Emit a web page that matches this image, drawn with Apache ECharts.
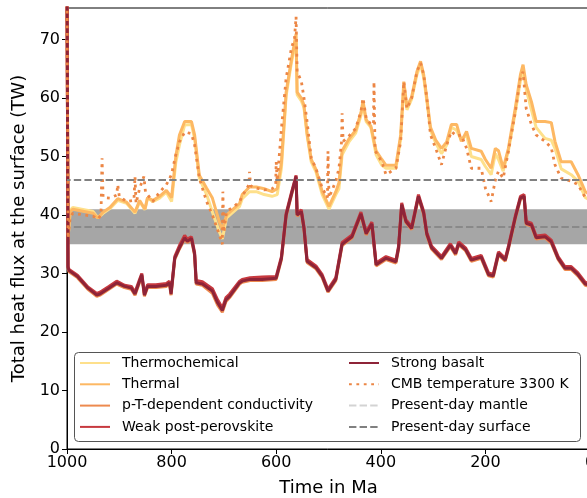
<!DOCTYPE html>
<html>
<head>
<meta charset="utf-8">
<script src="https://cdn.jsdelivr.net/npm/echarts@6/dist/echarts.min.js"></script>
<style>
  html, body { margin: 0; padding: 0; background: #fff; }
  #chart { width: 587px; height: 498px; }
</style>
</head>
<body>
<div id="chart"></div>
<script>
// ticks
var xTicks = [0, 200, 400, 600, 800, 1000];
var yTicks = [0, 10, 20, 30, 40, 50, 60, 70];

// reference values (TW)
var mantleFlux = 38;
var surfaceFlux = 46;
var mantleBand = [35, 41];

// thermal / thermochemical runs share a time grid (Ma)
var upperTime = [
  1000, 998, 994, 989, 950, 941, 931, 918, 903, 886,
  870, 861, 851, 846, 836, 823, 810, 800, 792, 785,
  775, 762, 756, 747, 733, 722, 709, 703, 695, 670,
  665, 651, 638, 623, 608, 598, 590, 581, 571, 562,
  560, 552, 547, 541, 533, 524, 512, 499, 486, 480,
  474, 461, 448, 438, 434, 428, 419, 409, 398, 390,
  371, 362, 356, 350, 341, 331, 324, 318, 312, 305,
  295, 284, 274, 265, 255, 246, 236, 227, 208, 200,
  189, 181, 175, 166, 156, 143, 133, 128, 122, 112,
  103, 86, 74, 67, 55, 36, 23, 9, 0
];
var thermalFlux = [
  80, 36, 40.5, 41.0, 40.3, 39.5, 40.5, 41.3, 42.8, 42.2,
  40.5, 42.5, 41.0, 43.0, 42.5, 43.2, 44.2, 43.0, 50.0, 53.7,
  56.0, 56.0, 53.7, 46.8, 44.6, 42.9, 38.9, 37.5, 40.0, 42.0,
  43.5, 44.8, 44.8, 44.5, 44.0, 44.5, 49.0, 61.0, 66.5, 71.0,
  61.0, 60.0, 58.8, 54.0, 49.5, 47.8, 44.0, 41.5, 44.0, 45.5,
  51.0, 53.0, 54.5, 57.5, 59.5, 56.3, 55.2, 51.0, 49.5, 48.5,
  48.5, 53.7, 62.8, 58.5, 60.2, 64.5, 66.3, 64.0, 60.0, 55.0,
  52.8, 51.4, 52.5, 55.5, 55.5, 52.6, 54.3, 51.4, 50.9, 49.5,
  48.0, 51.4, 51.0, 48.0, 51.4, 58.2, 64.0, 65.7, 62.3, 59.4,
  56.0, 56.0, 55.8, 52.6, 49.1, 49.1, 46.9, 44.0, 43.5
];
var thermochemFlux = [
  80, 36, 40.8, 41.3, 40.6, 39.5, 40.3, 41.1, 42.5, 42.0,
  40.3, 42.3, 40.9, 42.9, 42.3, 42.9, 43.9, 42.3, 49.0, 52.0,
  55.4, 55.5, 53.0, 46.3, 43.5, 40.5, 37.2, 35.9, 39.5, 41.5,
  42.8, 44.0, 44.0, 43.5, 43.2, 43.5, 48.0, 60.4, 66.0, 70.0,
  60.6, 59.5, 58.4, 53.7, 49.1, 47.4, 43.5, 41.0, 43.5, 44.5,
  50.3, 52.5, 54.0, 57.0, 59.0, 56.0, 55.0, 50.3, 48.5, 48.0,
  48.0, 53.0, 62.0, 58.0, 59.8, 64.0, 65.8, 63.5, 59.5, 54.5,
  52.3, 50.5, 52.0, 55.0, 54.5, 52.8, 53.8, 50.0, 49.5, 48.3,
  46.9, 50.5, 49.5, 47.5, 51.0, 57.5, 63.0, 64.8, 61.5, 58.0,
  55.0, 53.1, 52.8, 51.4, 47.9, 46.9, 45.8, 43.0, 42.5
];

// CMB temperature 3300 K run
var cmbTime = [
  1000, 998, 994, 989, 950, 941, 935, 933, 931, 918,
  905, 903, 900, 886, 872, 870, 868, 861, 853, 850,
  846, 836, 823, 810, 805, 800, 792, 785, 775, 762,
  756, 747, 733, 722, 709, 703, 702, 700, 695, 680,
  670, 665, 652, 651, 649, 638, 623, 608, 601, 600,
  598, 590, 581, 571, 565, 562, 560, 552, 547, 541,
  533, 524, 512, 502, 501, 499, 486, 480, 475, 474,
  472, 461, 448, 438, 434, 428, 419, 414, 413, 411,
  409, 398, 390, 371, 362, 356, 350, 341, 331, 324,
  318, 312, 305, 295, 284, 274, 265, 255, 246, 236,
  227, 208, 200, 189, 181, 175, 166, 156, 143, 133,
  128, 122, 112, 103, 86, 74, 67, 55, 36, 23,
  9, 0
];
var cmbFlux = [
  80, 36, 39.5, 40.3, 39.8, 39.3, 40.0, 49.7, 43.0, 42.9,
  43.4, 45.2, 43.2, 42.3, 42.5, 46.6, 42.0, 44.6, 46.6, 44.0,
  43.5, 42.3, 43.9, 45.2, 46.0, 47.0, 50.3, 52.5, 54.2, 53.9,
  52.0, 46.3, 42.3, 40.0, 36.7, 35.0, 44.0, 37.0, 40.6, 41.5,
  42.3, 43.2, 45.2, 47.4, 45.0, 44.6, 44.3, 44.5, 45.0, 49.1,
  45.8, 54.8, 63.4, 68.5, 70.2, 73.9, 64.5, 62.9, 60.1, 56.0,
  49.7, 48.0, 44.6, 43.0, 50.9, 43.0, 45.8, 48.0, 52.6, 57.4,
  52.6, 53.5, 54.8, 57.7, 60.0, 56.6, 55.5, 55.5, 62.8, 51.0,
  50.9, 49.1, 46.9, 48.0, 52.6, 62.8, 58.2, 60.0, 64.5, 66.0,
  64.0, 60.0, 53.7, 51.4, 48.6, 52.0, 54.3, 53.5, 53.7, 51.4,
  48.0, 48.0, 44.6, 42.3, 46.0, 47.5, 46.3, 50.9, 57.5, 63.5,
  64.5, 58.2, 55.5, 53.7, 52.6, 51.5, 48.6, 46.3, 45.8, 45.2,
  43.0, 42.5
];

// conductivity / post-perovskite / basalt runs share a time grid (Ma)
var lowerTime = [
  1000, 998, 996, 980, 960, 943, 937, 920, 905, 890,
  877, 870, 862, 857, 852, 846, 830, 810, 804, 801,
  794, 785, 775, 770, 762, 756, 753, 741, 722, 712,
  703, 696, 689, 670, 665, 650, 627, 600, 590, 581,
  571, 562, 560, 552, 547, 541, 524, 512, 501, 486,
  474, 455, 438, 428, 417, 409, 390, 371, 366, 360,
  352, 341, 328, 318, 312, 303, 284, 267, 257, 251,
  238, 227, 208, 194, 185, 175, 162, 156, 143, 133,
  126, 122, 112, 103, 86, 74, 61, 48, 36, 23,
  9, 0
];
var pTFlux = [
  80, 30.8, 30.3, 29.3, 27.3, 26.1, 26.3, 27.3, 28.2, 27.6,
  27.3, 26.3, 28.3, 29.6, 26.1, 27.6, 27.6, 27.8, 28.2, 26.3,
  32.4, 34.2, 35.9, 35.3, 35.8, 33.1, 28.2, 28.0, 26.6, 24.6,
  23.4, 25.2, 25.9, 28.2, 28.5, 28.8, 28.8, 29.0, 32.4, 39.8,
  43.3, 46.4, 39.8, 40.4, 37.6, 31.9, 30.8, 29.3, 26.8, 28.8,
  34.8, 36.1, 40.0, 36.6, 38.3, 31.3, 32.4, 31.8, 34.2, 41.6,
  38.7, 37.5, 43.0, 40.1, 36.5, 34.2, 32.4, 34.6, 33.2, 34.9,
  33.9, 32.1, 32.6, 29.6, 29.4, 33.2, 32.1, 34.2, 39.3, 42.7,
  43.0, 38.4, 38.1, 35.9, 36.1, 35.2, 32.4, 30.7, 30.7, 29.6,
  28.0, 27.8
];
var weakPpvFlux = [
  80, 31.2, 30.7, 29.7, 27.7, 26.6, 26.8, 27.8, 28.7, 28.0,
  27.8, 26.8, 28.8, 30.0, 26.6, 28.1, 28.1, 28.3, 28.7, 26.8,
  32.9, 34.8, 36.5, 35.9, 36.3, 33.6, 28.8, 28.6, 27.4, 25.5,
  24.1, 25.9, 26.5, 28.7, 29.0, 29.3, 29.4, 29.5, 32.9, 40.3,
  43.8, 46.8, 40.3, 40.9, 38.1, 32.4, 31.3, 29.8, 27.3, 29.3,
  35.3, 36.6, 40.5, 37.1, 38.8, 31.8, 32.9, 32.3, 34.7, 42.1,
  39.2, 38.0, 43.5, 40.6, 37.0, 34.7, 32.9, 35.1, 33.7, 35.4,
  34.4, 32.6, 33.1, 30.1, 29.9, 33.7, 32.6, 34.7, 39.8, 43.2,
  43.5, 38.9, 38.6, 36.4, 36.6, 35.7, 32.9, 31.2, 31.2, 30.1,
  28.5, 28.3
];
var strongBasaltFlux = [
  80, 31.0, 30.5, 29.5, 27.5, 26.3, 26.5, 27.5, 28.4, 27.8,
  27.5, 26.5, 28.5, 29.8, 26.3, 27.8, 27.8, 28.0, 28.4, 26.5,
  32.6, 34.4, 36.1, 35.5, 36.0, 33.3, 28.4, 28.2, 27.0, 25.0,
  23.7, 25.5, 26.1, 28.4, 28.7, 29.0, 29.0, 29.2, 32.6, 40.0,
  43.5, 46.6, 40.0, 40.6, 37.8, 32.1, 31.0, 29.5, 27.0, 29.0,
  35.0, 36.3, 40.2, 36.8, 38.5, 31.5, 32.6, 32.0, 34.4, 41.8,
  38.9, 37.7, 43.2, 40.3, 36.7, 34.4, 32.6, 34.8, 33.4, 35.1,
  34.1, 32.3, 32.8, 29.8, 29.6, 33.4, 32.3, 34.4, 39.5, 42.9,
  43.2, 38.6, 38.3, 36.1, 36.3, 35.4, 32.6, 30.9, 30.9, 29.8,
  28.2, 28.0
];

function pairs(t, v) {
  return t.map(function (x, i) { return [x, v[i]]; });
}

var font = 'DejaVu Sans';
var chart = echarts.init(document.getElementById('chart'));

function run(name, color, t, v, extra) {
  var s = {
    name: name,
    type: 'line',
    data: pairs(t, v),
    symbol: 'none',
    showSymbol: false,
    z: 3,
    lineStyle: { color: color, width: 3 },
    itemStyle: { color: color }
  };
  if (extra) s.lineStyle = Object.assign(s.lineStyle, extra);
  return s;
}

var legendText = { fontFamily: font, fontSize: 14, color: '#000', padding: [0, 0, 0, 7] };

chart.setOption({
  animation: false,
  backgroundColor: '#fff',
  grid: {
    left: 67, right: -3, top: 8, bottom: 49, outerBoundsMode: 'none',
    show: true, borderColor: '#000', borderWidth: 1
  },
  xAxis: {
    type: 'value', inverse: true, min: 0, max: 1000,
    name: 'Time in Ma', nameLocation: 'middle', nameGap: 30,
    nameTextStyle: { fontFamily: font, fontSize: 18, color: '#000' },
    axisLine: { show: true, onZero: false, lineStyle: { color: '#000', width: 1 } },
    axisTick: { show: true, length: 5, lineStyle: { color: '#000' }, customValues: xTicks },
    axisLabel: {
      fontFamily: font, fontSize: 16, color: '#000', margin: 6, customValues: xTicks,
      formatter: function (v) { return String(v); }
    },
    splitLine: { show: false }
  },
  yAxis: {
    type: 'value', min: 0, max: 75.4,
    name: 'Total heat flux at the surface (TW)', nameLocation: 'middle', nameGap: 28,
    nameTextStyle: { fontFamily: font, fontSize: 18, color: '#000' },
    axisLine: { show: true, onZero: false, lineStyle: { color: '#000', width: 1 } },
    axisTick: { show: true, length: 5, lineStyle: { color: '#000' }, customValues: yTicks },
    axisLabel: { fontFamily: font, fontSize: 16, color: '#000', margin: 7, customValues: yTicks },
    splitLine: { show: false }
  },
  graphic: [{
    type: 'rect', z: 3, silent: true,
    shape: { x: 74.5, y: 352.5, width: 506, height: 89, r: 4 },
    style: { fill: '#fff', stroke: '#555', lineWidth: 1 }
  }],
  legend: [{
    orient: 'vertical', left: 79, top: 356, padding: 0,
    itemWidth: 30, itemHeight: 14, itemGap: 7.3,
    itemStyle: { opacity: 0 },
    textStyle: legendText,
    data: ['Thermochemical', 'Thermal', 'p-T-dependent conductivity', 'Weak post-perovskite']
  }, {
    orient: 'vertical', left: 348, top: 356, padding: 0,
    itemWidth: 30, itemHeight: 14, itemGap: 7.3,
    itemStyle: { opacity: 0 },
    textStyle: legendText,
    data: ['Strong basalt', 'CMB temperature 3300 K', 'Present-day mantle', 'Present-day surface']
  }],
  series: [
    {
      name: 'Present-day mantle', type: 'line', data: [], symbol: 'none', z: 1,
      lineStyle: { color: '#d3d3d3', width: 2, type: [7.4, 3.2] },
      itemStyle: { color: '#d3d3d3' },
      markLine: {
        silent: true, symbol: 'none', label: { show: false }, z: 2,
        lineStyle: { color: '#898989', width: 2, type: [7.4, 3.2] },
        data: [{ yAxis: mantleFlux }]
      }
    },
    {
      name: 'band', type: 'line', data: [], z: 1,
      markArea: {
        silent: true, z: 1,
        itemStyle: { color: '#a6a6a6' },
        data: [[{ yAxis: mantleBand[0] }, { yAxis: mantleBand[1] }]]
      }
    },
    run('Thermochemical', '#fee08b', upperTime, thermochemFlux),
    run('Thermal', '#fdb863', upperTime, thermalFlux),
    run('p-T-dependent conductivity', '#ed8a4f', lowerTime, pTFlux),
    run('Weak post-perovskite', '#c7393f', lowerTime, weakPpvFlux),
    run('Strong basalt', '#8e2438', lowerTime, strongBasaltFlux),
    run('CMB temperature 3300 K', '#ec8645', cmbTime, cmbFlux, { type: [2.8, 4.6], width: 2.8 }),
    {
      name: 'Present-day surface', type: 'line', data: [], symbol: 'none', z: 4,
      lineStyle: { color: '#808080', width: 2, type: [7.4, 3.2] },
      itemStyle: { color: '#808080' },
      markLine: {
        silent: true, symbol: 'none', label: { show: false }, z: 5,
        lineStyle: { color: '#808080', width: 2, type: [7.4, 3.2] },
        data: [{ yAxis: surfaceFlux }]
      }
    }
  ]
});
</script>
</body>
</html>
